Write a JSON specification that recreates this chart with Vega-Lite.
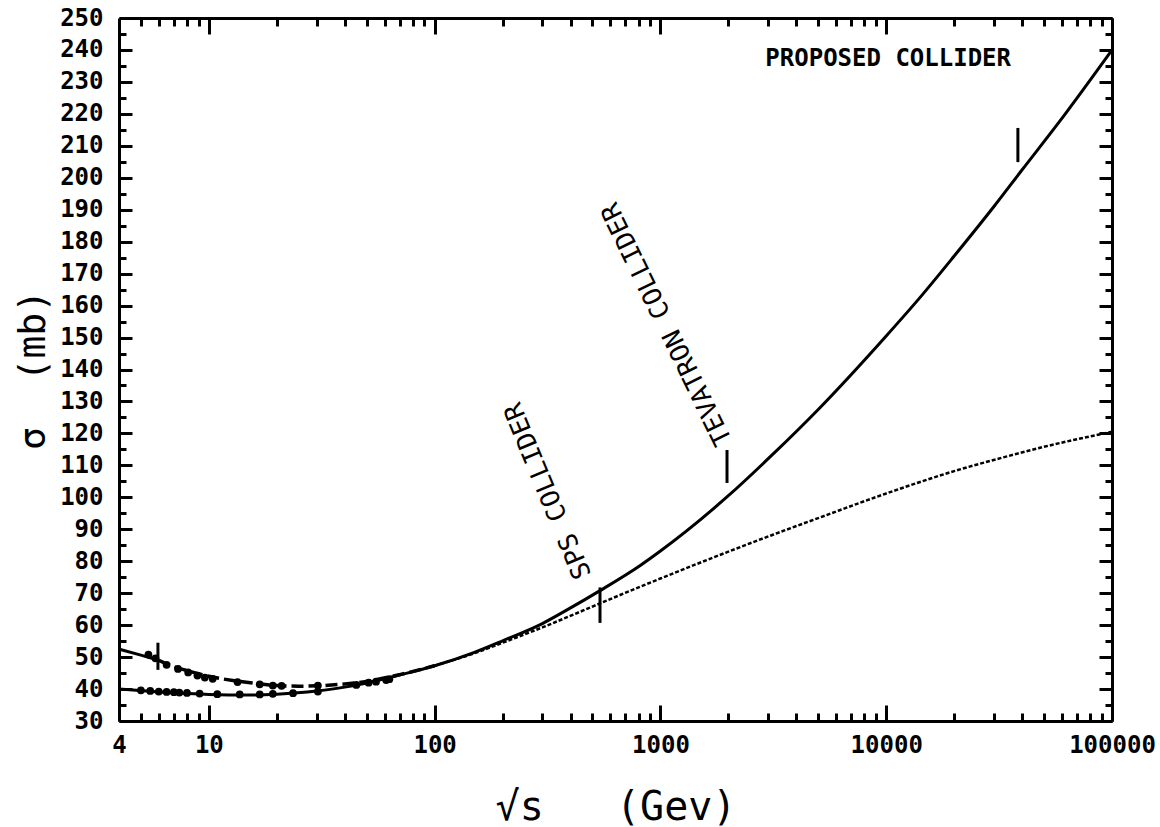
{
  "$schema": "https://vega.github.io/schema/vega-lite/v6.json",
  "width": 993,
  "height": 703,
  "autosize": {"type": "none"},
  "padding": {"left": 119, "top": 18, "right": 48, "bottom": 106},
  "background": "white",
  "config": {
    "view": {"stroke": null},
    "axis": {
      "grid": false,
      "domainColor": "black",
      "domainWidth": 3,
      "tickColor": "black",
      "tickWidth": 3,
      "labelColor": "black",
      "labelFont": "DejaVu Sans Mono",
      "labelFontWeight": "bold",
      "labelFontSize": 24,
      "labelFlush": false,
      "labelOverlap": false,
      "labelBound": false,
      "titleColor": "black",
      "titleFont": "DejaVu Sans Mono",
      "titleFontWeight": "normal"
    }
  },
  "datasets": {
    "curves": [
      {"x": 4, "y": 40, "curve": "A_pp"},
      {"x": 5, "y": 39.5, "curve": "A_pp"},
      {"x": 6, "y": 39.1, "curve": "A_pp"},
      {"x": 8, "y": 38.6, "curve": "A_pp"},
      {"x": 10, "y": 38.3, "curve": "A_pp"},
      {"x": 15, "y": 38.1, "curve": "A_pp"},
      {"x": 20, "y": 38.4, "curve": "A_pp"},
      {"x": 30, "y": 39.4, "curve": "A_pp"},
      {"x": 40, "y": 40.6, "curve": "A_pp"},
      {"x": 50, "y": 41.9, "curve": "A_pp"},
      {"x": 70, "y": 44.4, "curve": "A_pp"},
      {"x": 100, "y": 47.3, "curve": "A_pp"},
      {"x": 150, "y": 51.5, "curve": "A_pp"},
      {"x": 200, "y": 55.1, "curve": "A_pp"},
      {"x": 300, "y": 60.5, "curve": "A_pp"},
      {"x": 400, "y": 65.4, "curve": "A_pp"},
      {"x": 540, "y": 70.8, "curve": "A_pp"},
      {"x": 811, "y": 78.6, "curve": "A_pp"},
      {"x": 1000, "y": 83.2, "curve": "A_pp"},
      {"x": 2000, "y": 100.5, "curve": "A_pp"},
      {"x": 3150, "y": 113.5, "curve": "A_pp"},
      {"x": 5000, "y": 127.5, "curve": "A_pp"},
      {"x": 10000, "y": 150.5, "curve": "A_pp"},
      {"x": 14100, "y": 162.5, "curve": "A_pp"},
      {"x": 20000, "y": 175.5, "curve": "A_pp"},
      {"x": 30000, "y": 191, "curve": "A_pp"},
      {"x": 40000, "y": 202.5, "curve": "A_pp"},
      {"x": 57700, "y": 217, "curve": "A_pp"},
      {"x": 100000, "y": 240, "curve": "A_pp"},
      {"x": 4, "y": 52.5, "curve": "A_ppbar"},
      {"x": 5, "y": 50.6, "curve": "A_ppbar"},
      {"x": 6, "y": 49, "curve": "A_ppbar"},
      {"x": 6, "y": 49, "curve": "B_ppbar"},
      {"x": 7, "y": 47, "curve": "B_ppbar"},
      {"x": 8, "y": 45.8, "curve": "B_ppbar"},
      {"x": 10, "y": 44, "curve": "B_ppbar"},
      {"x": 13, "y": 42.6, "curve": "B_ppbar"},
      {"x": 17, "y": 41.6, "curve": "B_ppbar"},
      {"x": 20, "y": 41.1, "curve": "B_ppbar"},
      {"x": 25, "y": 40.9, "curve": "B_ppbar"},
      {"x": 30, "y": 41, "curve": "B_ppbar"},
      {"x": 40, "y": 41.6, "curve": "B_ppbar"},
      {"x": 50, "y": 42.4, "curve": "B_ppbar"},
      {"x": 70, "y": 44.5, "curve": "B_ppbar"},
      {"x": 100, "y": 47.3, "curve": "B_ppbar"},
      {"x": 100, "y": 47.3, "curve": "B_high"},
      {"x": 150, "y": 51.2, "curve": "B_high"},
      {"x": 200, "y": 54.5, "curve": "B_high"},
      {"x": 300, "y": 59.3, "curve": "B_high"},
      {"x": 540, "y": 66.8, "curve": "B_high"},
      {"x": 811, "y": 72, "curve": "B_high"},
      {"x": 1000, "y": 74.6, "curve": "B_high"},
      {"x": 2000, "y": 83, "curve": "B_high"},
      {"x": 3150, "y": 88.3, "curve": "B_high"},
      {"x": 5000, "y": 93.5, "curve": "B_high"},
      {"x": 10000, "y": 101.2, "curve": "B_high"},
      {"x": 20000, "y": 108.2, "curve": "B_high"},
      {"x": 34270, "y": 112.8, "curve": "B_high"},
      {"x": 50000, "y": 115.8, "curve": "B_high"},
      {"x": 100000, "y": 120.5, "curve": "B_high"}
    ],
    "points": [
      {"x": 5.4, "y": 50.8}, {"x": 5.8, "y": 49.6}, {"x": 6.5, "y": 47.6}, {"x": 7.3, "y": 46.3},
      {"x": 8.1, "y": 45.2}, {"x": 8.9, "y": 44.2}, {"x": 9.6, "y": 43.6}, {"x": 10.4, "y": 43.2},
      {"x": 13.4, "y": 42.2}, {"x": 16.8, "y": 41.5}, {"x": 19.2, "y": 41.1}, {"x": 21, "y": 41},
      {"x": 30.4, "y": 41.1},
      {"x": 5, "y": 39.6}, {"x": 5.5, "y": 39.4}, {"x": 6, "y": 39.2}, {"x": 6.5, "y": 39.1},
      {"x": 7, "y": 39}, {"x": 7.4, "y": 38.9}, {"x": 8, "y": 38.8}, {"x": 9.1, "y": 38.6},
      {"x": 10.9, "y": 38.4}, {"x": 13.7, "y": 38.3}, {"x": 16.8, "y": 38.3}, {"x": 19.2, "y": 38.5},
      {"x": 23.6, "y": 38.7}, {"x": 30.4, "y": 39.2},
      {"x": 45, "y": 41.3}, {"x": 51, "y": 42}, {"x": 55, "y": 42.3}, {"x": 61, "y": 42.8}, {"x": 63, "y": 43.1}
    ],
    "marks": [
      {"x": 5.95, "y": 46, "y2": 54.5, "what": "error bar"},
      {"x": 540, "y": 60.7, "y2": 71.8, "what": "SPS"},
      {"x": 1972, "y": 104.5, "y2": 114.8, "what": "Tevatron"},
      {"x": 38300, "y": 204.9, "y2": 215.6, "what": "Proposed"}
    ],
    "labels": [
      {"x": 318, "y": 102, "text": "SPS COLLIDER", "which": "sps"},
      {"x": 1069, "y": 154.2, "text": "TEVATRON COLLIDER", "which": "tev"},
      {"x": 10200, "y": 237.2, "text": "PROPOSED COLLIDER", "which": "prop"}
    ]
  },
  "resolve": {"axis": {"x": "independent", "y": "independent"}},
  "layer": [
    {
      "data": {"name": "curves"},
      "transform": [{"filter": "datum.curve === 'A_pp' || datum.curve === 'A_ppbar'"}],
      "mark": {"type": "line", "color": "black", "strokeWidth": 3, "interpolate": "monotone"},
      "encoding": {
        "x": {
          "field": "x", "type": "quantitative",
          "scale": {"type": "log", "domain": [4, 100000], "nice": false},
          "axis": {
            "orient": "bottom",
            "values": [4, 10, 100, 1000, 10000, 100000],
            "format": "d",
            "tickSize": -16,
            "labelPadding": 28,
            "title": "\u00a0√s\u00a0\u00a0\u00a0(Gev)",
            "titleFontSize": 40,
            "titlePadding": 30
          }
        },
        "y": {
          "field": "y", "type": "quantitative",
          "scale": {"domain": [30, 250], "nice": false, "zero": false},
          "axis": {
            "orient": "left",
            "values": [30, 40, 50, 60, 70, 80, 90, 100, 110, 120, 130, 140, 150, 160, 170, 180, 190, 200, 210, 220, 230, 240, 250],
            "tickSize": -13,
            "labelPadding": 29,
            "title": "\u00a0σ\u00a0\u00a0(mb)",
            "titleFontSize": 38,
            "titlePadding": 7
          }
        },
        "detail": {"field": "curve"}
      }
    },
    {
      "data": {"name": "curves"},
      "transform": [{"filter": "datum.curve === 'B_ppbar'"}],
      "mark": {"type": "line", "color": "black", "strokeWidth": 3.5, "strokeDash": [12, 5], "interpolate": "monotone"},
      "encoding": {
        "x": {
          "field": "x", "type": "quantitative",
          "scale": {"type": "log", "domain": [4, 100000], "nice": false},
          "axis": {
            "orient": "bottom",
            "values": [5, 6, 7, 8, 9, 20, 30, 40, 50, 60, 70, 80, 90, 200, 300, 400, 500, 600, 700, 800, 900, 2000, 3000, 4000, 5000, 6000, 7000, 8000, 9000, 20000, 30000, 40000, 50000, 60000, 70000, 80000, 90000],
            "tickSize": -8, "labels": false, "domain": false, "title": null
          }
        },
        "y": {
          "field": "y", "type": "quantitative",
          "scale": {"domain": [30, 250], "nice": false, "zero": false},
          "axis": {
            "orient": "left",
            "values": [35, 45, 55, 65, 75, 85, 95, 105, 115, 125, 135, 145, 155, 165, 175, 185, 195, 205, 215, 225, 235, 245],
            "tickSize": -7, "labels": false, "domain": false, "title": null
          }
        }
      }
    },
    {
      "data": {"name": "curves"},
      "transform": [{"filter": "datum.curve === 'B_high'"}],
      "mark": {"type": "line", "color": "black", "strokeWidth": 2.5, "strokeDash": [4, 2], "interpolate": "monotone"},
      "encoding": {
        "x": {
          "field": "x", "type": "quantitative",
          "scale": {"type": "log", "domain": [4, 100000], "nice": false},
          "axis": {
            "orient": "top",
            "values": [10, 100, 1000, 10000, 100000],
            "tickSize": -16, "labels": false, "title": null
          }
        },
        "y": {
          "field": "y", "type": "quantitative",
          "scale": {"domain": [30, 250], "nice": false, "zero": false},
          "axis": {
            "orient": "right",
            "values": [30, 40, 50, 60, 70, 80, 90, 100, 110, 120, 130, 140, 150, 160, 170, 180, 190, 200, 210, 220, 230, 240, 250],
            "tickSize": -13, "labels": false, "title": null
          }
        }
      }
    },
    {
      "data": {"name": "points"},
      "mark": {"type": "point", "filled": true, "shape": "circle", "color": "black", "opacity": 1, "size": 60},
      "encoding": {
        "x": {
          "field": "x", "type": "quantitative",
          "scale": {"type": "log", "domain": [4, 100000], "nice": false},
          "axis": {
            "orient": "top",
            "values": [5, 6, 7, 8, 9, 20, 30, 40, 50, 60, 70, 80, 90, 200, 300, 400, 500, 600, 700, 800, 900, 2000, 3000, 4000, 5000, 6000, 7000, 8000, 9000, 20000, 30000, 40000, 50000, 60000, 70000, 80000, 90000],
            "tickSize": -8, "labels": false, "domain": false, "title": null
          }
        },
        "y": {
          "field": "y", "type": "quantitative",
          "scale": {"domain": [30, 250], "nice": false, "zero": false},
          "axis": {
            "orient": "right",
            "values": [35, 45, 55, 65, 75, 85, 95, 105, 115, 125, 135, 145, 155, 165, 175, 185, 195, 205, 215, 225, 235, 245],
            "tickSize": -7, "labels": false, "domain": false, "title": null
          }
        }
      }
    },
    {
      "data": {"name": "marks"},
      "mark": {"type": "rule", "color": "black", "strokeWidth": 3},
      "encoding": {
        "x": {"field": "x", "type": "quantitative", "scale": {"type": "log", "domain": [4, 100000], "nice": false}, "axis": null},
        "y": {"field": "y", "type": "quantitative", "scale": {"domain": [30, 250], "nice": false, "zero": false}, "axis": null},
        "y2": {"field": "y2"}
      }
    },
    {
      "data": {"name": "labels"},
      "transform": [{"filter": "datum.which === 'sps'"}],
      "mark": {"type": "text", "font": "DejaVu Sans Mono", "fontSize": 26, "color": "black", "angle": -112.6, "align": "center", "baseline": "middle"},
      "encoding": {
        "x": {"field": "x", "type": "quantitative", "scale": {"type": "log", "domain": [4, 100000], "nice": false}, "axis": null},
        "y": {"field": "y", "type": "quantitative", "scale": {"domain": [30, 250], "nice": false, "zero": false}, "axis": null},
        "text": {"field": "text"}
      }
    },
    {
      "data": {"name": "labels"},
      "transform": [{"filter": "datum.which === 'tev'"}],
      "mark": {"type": "text", "font": "DejaVu Sans Mono", "fontSize": 26, "color": "black", "angle": -116, "align": "center", "baseline": "middle"},
      "encoding": {
        "x": {"field": "x", "type": "quantitative", "scale": {"type": "log", "domain": [4, 100000], "nice": false}, "axis": null},
        "y": {"field": "y", "type": "quantitative", "scale": {"domain": [30, 250], "nice": false, "zero": false}, "axis": null},
        "text": {"field": "text"}
      }
    },
    {
      "data": {"name": "labels"},
      "transform": [{"filter": "datum.which === 'prop'"}],
      "mark": {"type": "text", "font": "DejaVu Sans Mono", "fontSize": 24, "fontWeight": "bold", "color": "black", "align": "center", "baseline": "middle"},
      "encoding": {
        "x": {"field": "x", "type": "quantitative", "scale": {"type": "log", "domain": [4, 100000], "nice": false}, "axis": null},
        "y": {"field": "y", "type": "quantitative", "scale": {"domain": [30, 250], "nice": false, "zero": false}, "axis": null},
        "text": {"field": "text"}
      }
    }
  ]
}
